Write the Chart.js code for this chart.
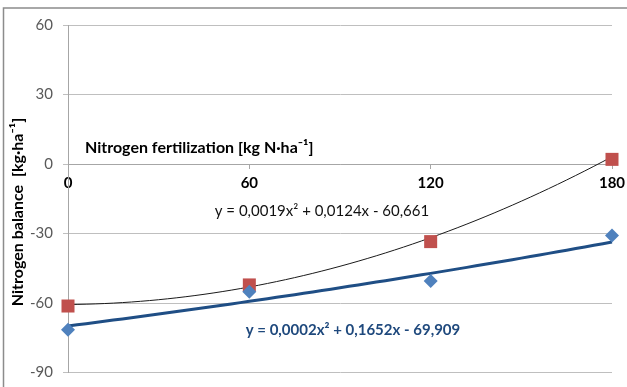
<!DOCTYPE html>
<html>
<head>
<meta charset="utf-8">
<script src="https://cdn.jsdelivr.net/npm/chart.js@4"></script>
<style>
  html, body { margin: 0; padding: 0; background: #fff; }
  #wrap { width: 627px; height: 387px; position: relative; }
</style>
</head>
<body>
<div id="wrap"><canvas id="nchart" width="627" height="387"></canvas></div>
<script>
// fertilization levels and nitrogen balance
var doses = [0, 60, 120, 180];
var balanceRed = [-61.3, -52.2, -33.5, 2.0];
var balanceBlue = [-71.6, -55.1, -50.5, -30.9];
var xTicks = [0, 60, 120, 180];
var yTicks = [-90, -60, -30, 0, 30, 60];

// trendline coefficients as printed on the chart (c0, c1, c2)
var trendRed = [-60.661, 0.0124, 0.0019];
var trendBlue = [-69.909, 0.1652, 0.0002];
var eqRed = 'y = 0,0019x\u00B2 + 0,0124x - 60,661';
var eqBlue = 'y = 0,0002x\u00B2 + 0,1652x - 69,909';

var FONT = 'Lato, "Open Sans", sans-serif';

function curve(c) {
  var pts = [];
  for (var x = 0; x <= 180; x += 3) {
    pts.push({ x: x, y: c[0] + c[1] * x + c[2] * x * x });
  }
  return pts;
}
function points(vals) {
  return doses.map(function(d, i) { return { x: d, y: vals[i] }; });
}

// frame, titles and equation labels
var decor = {
  id: 'decor',
  afterDraw: function(chart) {
    var ctx = chart.ctx;
    ctx.save();
    ctx.strokeStyle = '#8c8c8c';
    ctx.lineWidth = 1.5;
    ctx.beginPath();
    ctx.moveTo(3.5, 387);
    ctx.lineTo(3.5, 8);
    ctx.lineTo(627, 8);
    ctx.stroke();

    ctx.fillStyle = '#000';
    ctx.textBaseline = 'middle';
    ctx.font = 'bold 16px ' + FONT;
    ctx.textAlign = 'left';
    ctx.fillText('Nitrogen fertilization [kg N\u00B7ha\u207B\u00B9]', 85, 148);

    ctx.save();
    ctx.translate(18, 212);
    ctx.rotate(-Math.PI / 2);
    ctx.textAlign = 'center';
    ctx.fillText('Nitrogen balance  [kg\u00B7ha\u207B\u00B9]', 0, 0);
    ctx.restore();

    ctx.textAlign = 'center';
    ctx.font = '15px ' + FONT;
    ctx.fillStyle = '#111';
    ctx.fillText(eqRed, 322, 211);
    ctx.font = 'bold 15px ' + FONT;
    ctx.fillStyle = '#1f497d';
    ctx.fillText(eqBlue, 353, 330);
    ctx.restore();
  }
};

new Chart(document.getElementById('nchart'), {
  type: 'scatter',
  data: {
    datasets: [
      {
        type: 'line',
        data: curve(trendRed),
        borderColor: '#1a1a1a',
        borderWidth: 1,
        pointRadius: 0,
        fill: false,
        clip: false,
        order: 3
      },
      {
        type: 'line',
        data: curve(trendBlue),
        borderColor: '#1f4e85',
        borderWidth: 3,
        pointRadius: 0,
        fill: false,
        clip: false,
        order: 2
      },
      {
        data: points(balanceRed),
        pointStyle: 'rect',
        pointRadius: 9.2,
        backgroundColor: '#c0504d',
        borderColor: '#c0504d',
        borderWidth: 0,
        clip: false,
        order: 1
      },
      {
        data: points(balanceBlue),
        pointStyle: 'rectRot',
        pointRadius: 7,
        backgroundColor: '#4f81bd',
        borderColor: '#4f81bd',
        borderWidth: 0,
        clip: false,
        order: 0
      }
    ]
  },
  options: {
    responsive: false,
    animation: false,
    layout: { padding: { left: 0, right: 15, top: 25, bottom: 14.5 } },
    plugins: {
      legend: { display: false },
      tooltip: { enabled: false }
    },
    scales: {
      x: {
        type: 'linear',
        position: { y: 0 },
        min: 0,
        max: 180,
        afterBuildTicks: function(scale) {
          scale.ticks = xTicks.map(function(v) { return { value: v }; });
        },
        afterFit: function(scale) {
          scale.paddingLeft = 0;
          scale.paddingRight = 0;
        },
        ticks: {
          font: { family: FONT, size: 15, weight: 'bold' },
          color: '#000',
          padding: 6,
          maxRotation: 0
        },
        grid: { drawOnChartArea: false, drawTicks: true, tickLength: 4, color: '#a6a6a6' },
        border: { color: '#a6a6a6', width: 1 }
      },
      y: {
        min: -90,
        max: 60,
        afterBuildTicks: function(scale) {
          scale.ticks = yTicks.map(function(v) { return { value: v }; });
        },
        afterFit: function(scale) {
          scale.width = 68;
          scale.paddingTop = 0;
          scale.paddingBottom = 0;
        },
        ticks: {
          font: { family: FONT, size: 15 },
          color: '#595959',
          padding: 10
        },
        grid: { color: '#bfbfbf', tickLength: 5 },
        border: { color: '#a6a6a6', width: 1 }
      }
    }
  },
  plugins: [decor]
});
</script>
</body>
</html>
